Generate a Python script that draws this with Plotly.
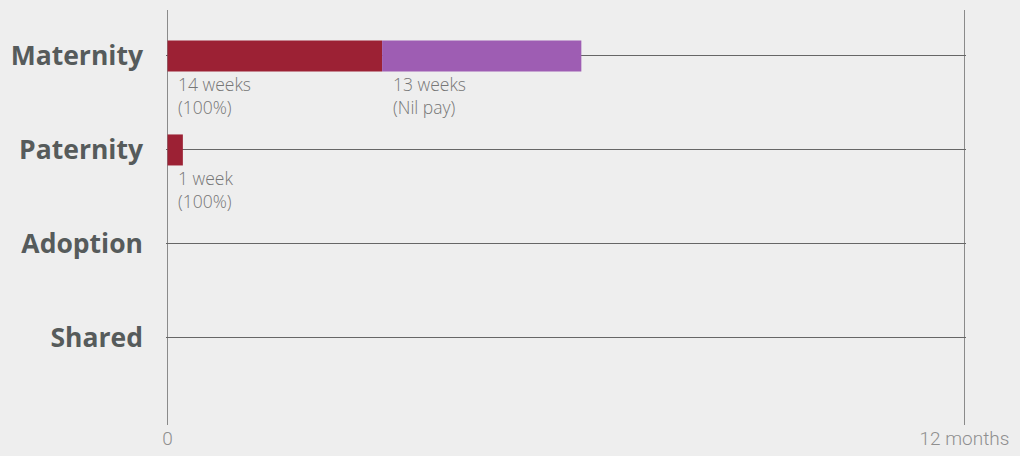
"""Statutory leave entitlements — horizontal bars on a 12 month (52 week) scale."""
import plotly.graph_objects as go

categorias = ["Maternity", "Paternity", "Adoption", "Shared"]
semanas_pagas = [14, 1, 0, 0]
semanas_nil = [13, 0, 0, 0]
rotulo_pagas = ["14 weeks<br>(100%)", "1 week<br>(100%)", "", ""]
rotulo_nil = ["13 weeks<br>(Nil pay)", "", "", ""]
escala_ticks = [0, 52]
escala_textos = ["0", "12 months"]

COR_PAGO = "#9c2134"
COR_NIL = "#9e5db3"
COR_TEXTO = "#767676"

pos = list(range(len(categorias)))

fig = go.Figure()
fig.add_trace(go.Bar(
    y=pos, x=semanas_pagas, base=[0] * len(pos), orientation="h",
    marker=dict(color=COR_PAGO, line=dict(width=0)), width=0.33,
    hoverinfo="skip",
))
fig.add_trace(go.Bar(
    y=pos, x=semanas_nil, base=semanas_pagas, orientation="h",
    marker=dict(color=COR_NIL, line=dict(width=0)), width=0.33,
    hoverinfo="skip",
))

# rótulos abaixo de cada segmento
def rotulo(x, y, texto, dx):
    if not texto:
        return
    fig.add_annotation(
        x=x, y=y, xref="x", yref="y", text=texto,
        showarrow=False, xanchor="left", yanchor="top", align="left",
        xshift=dx, yshift=-14,
        font=dict(family="Open Sans", size=17.5, color=COR_TEXTO, weight=300),
    )

for i in pos:
    rotulo(0, i, rotulo_pagas[i], 8)
    rotulo(semanas_pagas[i], i, rotulo_nil[i], 9)

fig.update_layout(
    barmode="overlay",
    showlegend=False,
    width=1020, height=456,
    margin=dict(l=166, r=54, t=10, b=31),
    paper_bgcolor="#eeeeee",
    plot_bgcolor="rgba(0,0,0,0)",
    xaxis=dict(
        range=[-0.1, 52.1], tickvals=escala_ticks, ticktext=escala_textos,
        showgrid=True, gridcolor="#8a8a8a", gridwidth=1, zeroline=False,
        showline=False, ticks="", automargin=False,
        tickfont=dict(family="Roboto", size=19, color="#8f8f8f", weight=300),
    ),
    yaxis=dict(
        range=[3.926, -0.489], tickvals=pos, ticktext=categorias,
        showgrid=True, gridcolor="#666666", gridwidth=1, zeroline=False,
        showline=False, ticks="", ticklabelstandoff=22, automargin=False,
        tickfont=dict(family="Open Sans", size=26.5, color="#565b5b", weight="bold"),
    ),
)

fig.write_html("out.html", config={"displayModeBar": False},
               post_script="document.body.style.margin='0';")
